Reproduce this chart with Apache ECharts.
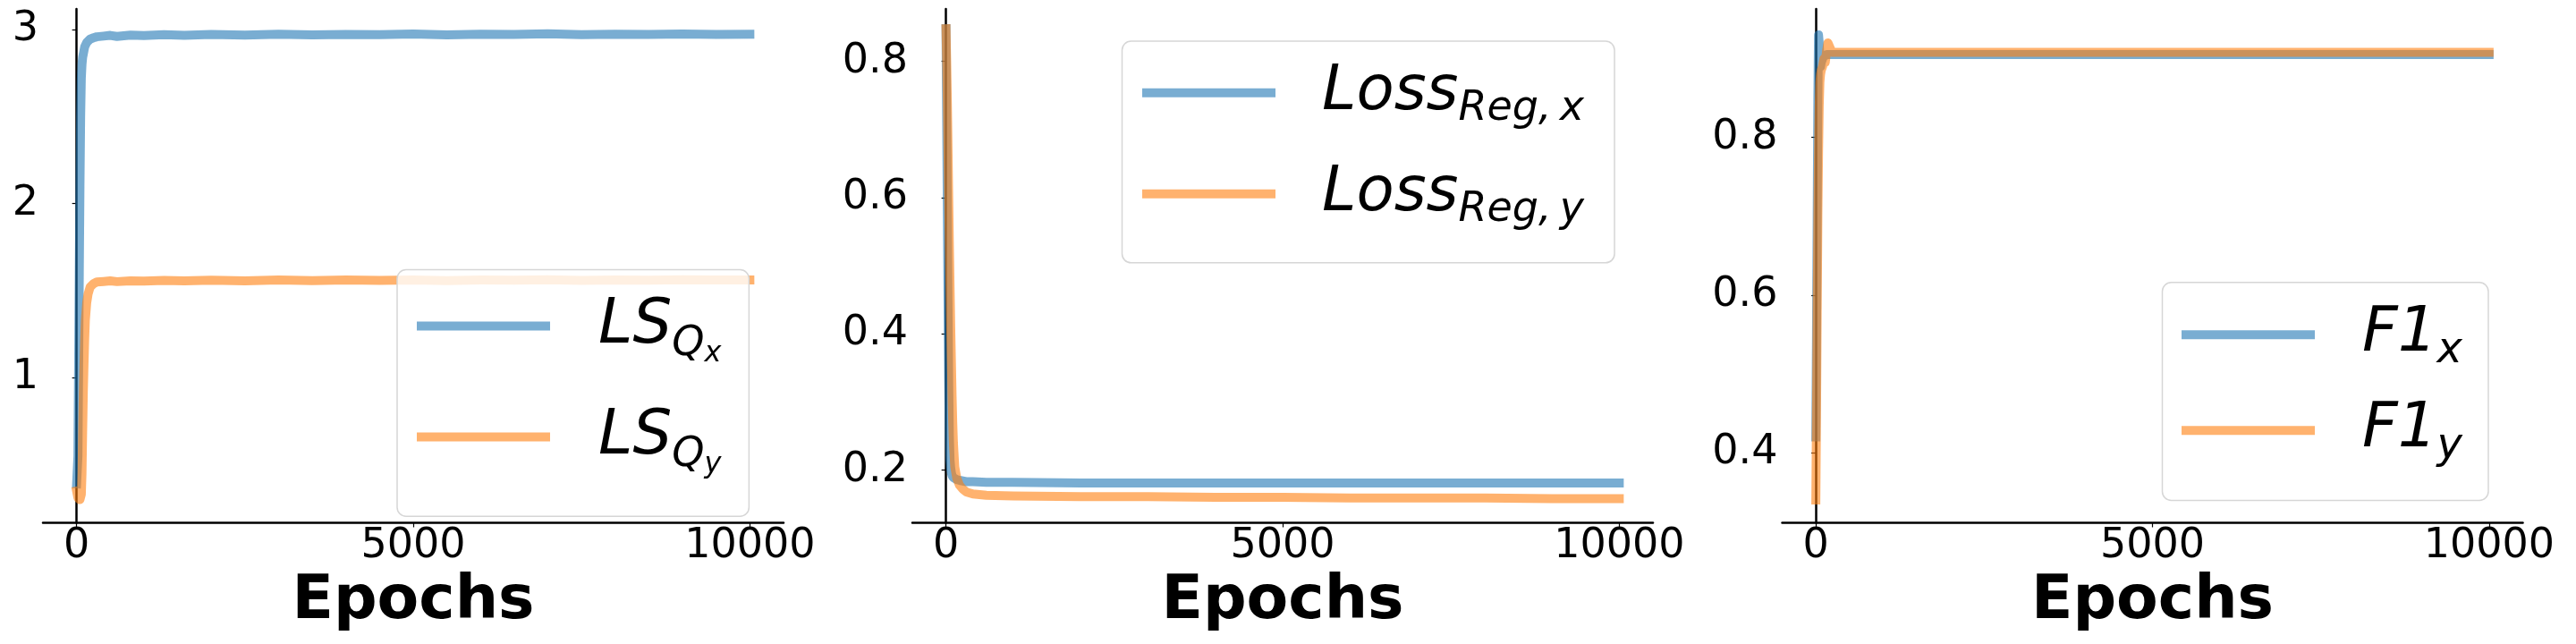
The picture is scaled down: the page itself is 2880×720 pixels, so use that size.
<!DOCTYPE html>
<html>
<head>
<meta charset="utf-8">
<script src="https://cdn.jsdelivr.net/npm/echarts@6/dist/echarts.min.js"></script>
<style>
html,body{margin:0;padding:0;background:#fff;}
#c{width:2880px;height:720px;}
</style>
</head>
<body>
<div id="c"></div>
<script>
// ---------- data ----------
const epochs1 = [0,10,20,30,40,50,60,70,80,90,100,110,120,130,150,170,200,250,300,400,500,600,800,1000,1300,1600,2000,2500,3000,3500,4000,4500,5000,5500,6000,6500,7000,7500,8000,8500,9000,9500,10000];
const lsQx = [0.39,0.40,0.55,1.05,1.6,2.1,2.5,2.72,2.8,2.84,2.86,2.88,2.9,2.91,2.925,2.935,2.945,2.952,2.958,2.962,2.966,2.96,2.968,2.965,2.97,2.966,2.972,2.968,2.973,2.969,2.972,2.97,2.974,2.969,2.973,2.971,2.975,2.97,2.973,2.971,2.974,2.972,2.973];
const lsQy = [0.35,0.33,0.31,0.30,0.30,0.30,0.31,0.33,0.45,0.7,0.92,1.08,1.22,1.33,1.43,1.48,1.52,1.54,1.55,1.553,1.556,1.552,1.557,1.555,1.559,1.556,1.56,1.557,1.561,1.558,1.561,1.559,1.562,1.558,1.561,1.56,1.563,1.559,1.562,1.56,1.563,1.561,1.562];

const epochs2 = [0,10,20,30,40,50,60,70,80,90,100,110,130,160,200,250,300,400,600,1000,2000,3000,4000,5000,6000,7000,8000,9000,10000];
const lossRegX = [0.848,0.72,0.58,0.45,0.33,0.25,0.215,0.203,0.196,0.192,0.19,0.189,0.187,0.186,0.185,0.184,0.183,0.183,0.182,0.182,0.181,0.181,0.181,0.181,0.181,0.181,0.181,0.181,0.181];
const lossRegY = [0.848,0.80,0.74,0.67,0.60,0.53,0.47,0.41,0.36,0.31,0.27,0.24,0.205,0.188,0.178,0.172,0.168,0.165,0.163,0.162,0.161,0.161,0.16,0.16,0.159,0.159,0.159,0.158,0.158];

const epochs3 = [0,10,20,30,40,50,60,70,80,100,120,140,160,180,200,220,240,300,500,1000,2000,4000,6000,8000,10000];
const f1x = [0.42,0.55,0.70,0.85,0.93,0.92,0.90,0.89,0.895,0.90,0.903,0.905,0.905,0.905,0.905,0.905,0.905,0.905,0.905,0.905,0.905,0.905,0.905,0.905,0.905];
const f1y = [0.34,0.45,0.58,0.70,0.78,0.84,0.87,0.88,0.885,0.89,0.90,0.895,0.91,0.92,0.918,0.912,0.908,0.908,0.908,0.908,0.908,0.908,0.908,0.908,0.908];

const xTicks = [0,5000,10000];
const yTicks1 = [1,2,3];
const yTicks2 = [0.2,0.4,0.6,0.8];
const yTicks3 = [0.4,0.6,0.8];
const xLabel = 'Epochs';

// ---------- styling ----------
const BLUE = 'rgba(31,119,180,0.6)';
const ORANGE = 'rgba(255,127,14,0.6)';
const FONT = "'DejaVu Sans'";

function pairs(xs, ys){ return xs.map((x,i)=>[x, ys[i]]); }
function plain(v){ return String(v); }

const gridLefts = [48, 1020, 1992.5];
const yRanges = [[0.167,3.118],[0.1226,0.877],[0.311,0.963]];
const yTickSets = [yTicks1, yTicks2, yTicks3];

const grids = gridLefts.map(l => ({left:l, top:10, width:828, height:574.5}));

const xAxes = gridLefts.map((l,i) => ({
  type:'value', gridIndex:i, min:-500, max:10500, position:'bottom',
  axisLine:{show:true, onZero:false, lineStyle:{color:'#000', width:2.5}},
  axisTick:{show:true, length:5, lineStyle:{color:'#000', width:1.2}, customValues:xTicks},
  axisLabel:{show:true, customValues:xTicks, formatter:plain, fontSize:46, color:'#000', fontFamily:FONT, margin:4, showMinLabel:true, showMaxLabel:true},
  splitLine:{show:false},
  name:xLabel, nameLocation:'middle', nameGap:52,
  nameTextStyle:{fontSize:68, fontWeight:'bold', color:'#000', fontFamily:FONT}
}));

const yAxes = gridLefts.map((l,i) => ({
  type:'value', gridIndex:i, min:yRanges[i][0], max:yRanges[i][1], position:'left',
  axisLine:{show:true, lineStyle:{color:'#000', width:2.5}},
  axisTick:{show:true, length:5, lineStyle:{color:'#000', width:1.2}, customValues:yTickSets[i]},
  axisLabel:{show:true, customValues:yTickSets[i], formatter:plain, fontSize:46, color:'#000', fontFamily:FONT, margin:5},
  splitLine:{show:false}
}));

function mkSeries(name, xi, xs, ys, color){
  return {
    name:name, type:'line', xAxisIndex:xi, yAxisIndex:xi,
    data:pairs(xs, ys), showSymbol:false, symbol:'none', smooth:false,
    color:color, itemStyle:{color:color},
    lineStyle:{color:color, width:10, cap:'square', join:'round'},
    emphasis:{disabled:true}, silent:true
  };
}

const series = [
  mkSeries('LSQx',0,epochs1,lsQx,BLUE),
  mkSeries('LSQy',0,epochs1,lsQy,ORANGE),
  mkSeries('LossRegX',1,epochs2,lossRegX,BLUE),
  mkSeries('LossRegY',1,epochs2,lossRegY,ORANGE),
  mkSeries('F1x',2,epochs3,f1x,BLUE),
  mkSeries('F1y',2,epochs3,f1y,ORANGE)
];

const labels = {
  LSQx:'{m|LS}{s|Q}{ss|x}',
  LSQy:'{m|LS}{s|Q}{ss|y}',
  LossRegX:'{m|Loss}{r|Reg,\u2009x}',
  LossRegY:'{m|Loss}{r|Reg,\u2009y}',
  F1x:'{m|F1}{t|x}',
  F1y:'{m|F1}{t|y}'
};

function rich(gapLeft){
  const base = {fontFamily:FONT, fontStyle:'italic', color:'#000', lineHeight:80};
  return {
    m:Object.assign({}, base, {fontSize:69, padding:[0,0,0,gapLeft]}),
    s:Object.assign({}, base, {fontSize:46, padding:[40,0,0,0]}),
    ss:Object.assign({}, base, {fontSize:32, padding:[62,0,0,0]}),
    r:Object.assign({}, base, {fontSize:46, padding:[36,0,0,0]}),
    t:Object.assign({}, base, {fontSize:48, padding:[37,0,0,0]})
  };
}

function mkLegend(names, left, top, padding, gap, gapLeft){
  return {
    data:names, orient:'vertical', left:left, top:top, padding:padding, itemGap:gap,
    itemWidth:149, itemHeight:10, icon:'rect', selectedMode:false,
    backgroundColor:'rgba(255,255,255,0.8)', borderColor:'#d6d6d6', borderWidth:1.5, borderRadius:10,
    itemStyle:{borderWidth:0},
    formatter:function(n){ return labels[n]; },
    textStyle:{rich:rich(gapLeft)}
  };
}

const legends = [
  mkLegend(['LSQx','LSQy'], 444, 301.6, [16,31,41.6,22], 30, 49),
  mkLegend(['LossRegX','LossRegY'], 1254.5, 46, [16.8,34,36,22.5], 31, 47),
  mkLegend(['F1x','F1y'], 2417.5, 315.8, [16,29,35.7,21.5], 22, 48)
];

const chart = echarts.init(document.getElementById('c'), null, {renderer:'canvas'});
chart.setOption({
  animation:false,
  backgroundColor:'#fff',
  grid:grids, xAxis:xAxes, yAxis:yAxes, legend:legends, series:series
});
</script>
</body>
</html>
